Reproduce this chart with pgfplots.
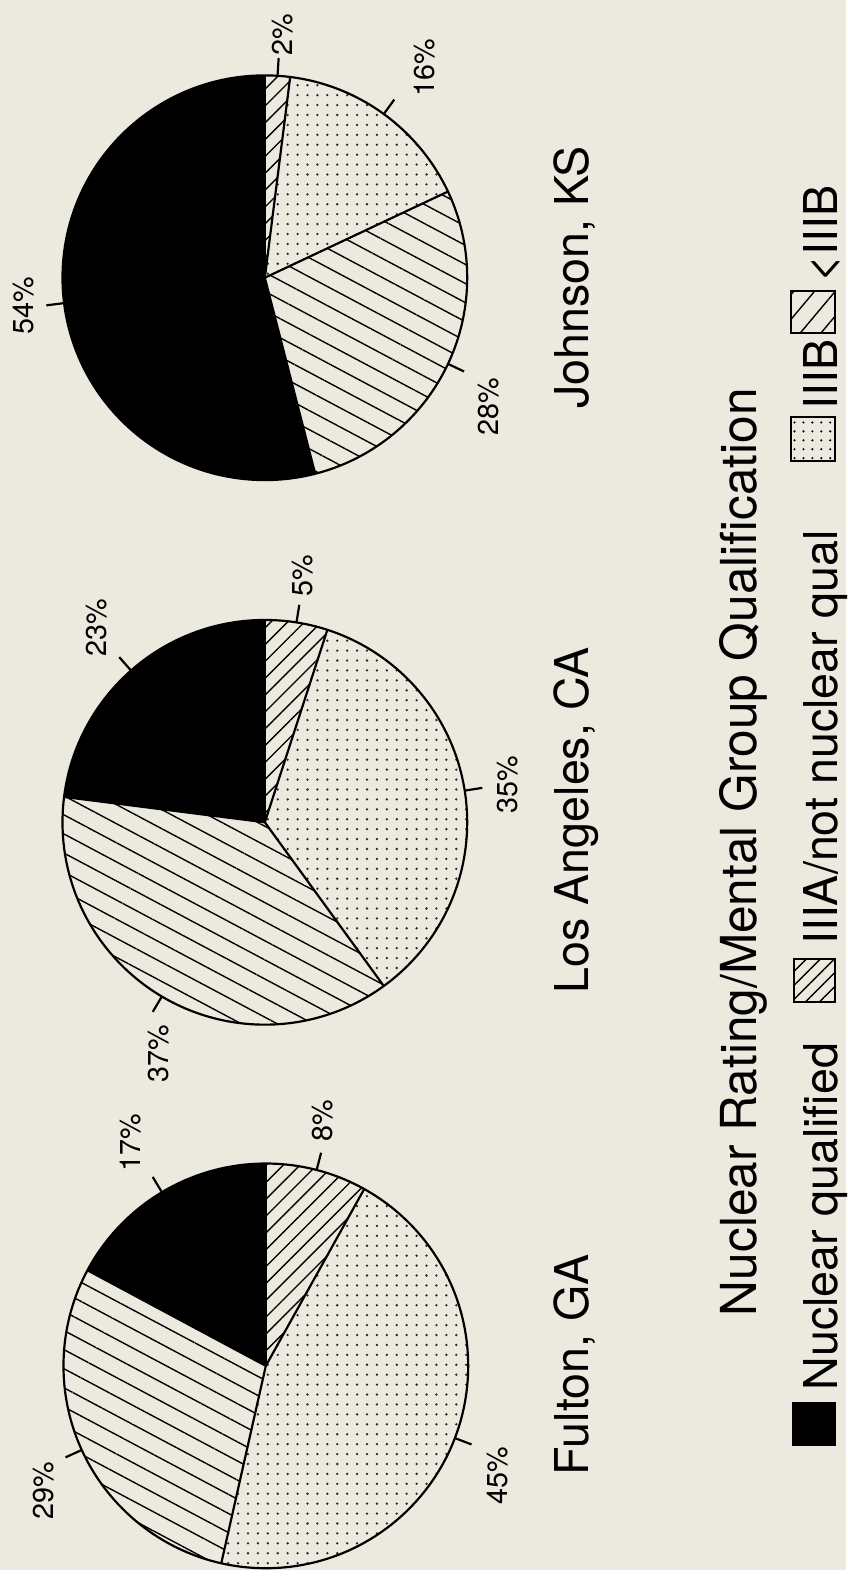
\documentclass[border=0pt]{standalone}
\usepackage{pgfplots}
\pgfplotsset{compat=1.18}
\usepackage{pgfplotstable}
\usetikzlibrary{patterns.meta}
\usepackage{fontspec}
\setmainfont{TeX Gyre Heros}
\definecolor{paper}{HTML}{ECE9DF}

% slices clockwise from 12 o'clock (page): IIIA/not nuclear qual, IIIB, <IIIB, Nuclear qualified
% lx, ly: label centre in picture pixels (y downward)
\pgfplotstableread{
val lx ly
8 325 1130
45 502 1488
29 44 1503
17 132 1152
}\fulton
\pgfplotstableread{
val lx ly
5 305 580
35 512 791
37 160 1062
23 97 633
}\losangeles
\pgfplotstableread{
val lx ly
2 285 35
16 428 68
28 493 410
54 24 308
}\johnson
\pgfplotstablecreatecol[expr accum={\pgfmathaccuma + \thisrow{val}}{0}]{cum}{\fulton}
\pgfplotstablecreatecol[expr accum={\pgfmathaccuma + \thisrow{val}}{0}]{cum}{\losangeles}
\pgfplotstablecreatecol[expr accum={\pgfmathaccuma + \thisrow{val}}{0}]{cum}{\johnson}

\tikzset{
  slice0/.style={pattern={Lines[angle=45,distance=6pt,line width=0.7pt]},pattern color=black},
  slice1/.style={pattern={Dots[distance=5pt,radius=0.65pt]},pattern color=black!85},
  slice2/.style={pattern={Lines[angle=-28,distance=8.5pt,line width=0.7pt]},pattern color=black},
  slice3/.style={fill=black},
}
\def\R{102pt}
\newcommand\labf{\fontsize{14.5}{17}\selectfont}
\newcommand\bigf{\fontsize{23.5}{28}\selectfont}

\newcommand\pie[3]{%
 \pgfplotsextra{%
  \pgfplotstablegetrowsof{#1}\pgfmathtruncatemacro\last{\pgfplotsretval-1}%
  \pgfplotstablegetelem{\last}{cum}\of#1\pgfmathsetmacro\tot{\pgfplotsretval}%
  \foreach \i in {0,...,\last}{%
    \pgfplotstablegetelem{\i}{val}\of#1\edef\vv{\pgfplotsretval}%
    \pgfplotstablegetelem{\i}{cum}\of#1\edef\cc{\pgfplotsretval}%
    \pgfplotstablegetelem{\i}{lx}\of#1\edef\lx{\pgfplotsretval}%
    \pgfplotstablegetelem{\i}{ly}\of#1\edef\ly{\pgfplotsretval}%
    \pgfmathsetmacro\aS{90-(\cc-\vv)/\tot*360}%
    \pgfmathsetmacro\aE{90-\cc/\tot*360}%
    \pgfmathsetmacro\aM{(\aS+\aE)/2}%
    \edef\sty{slice\i}%
    \path[\sty] (axis cs:#2,#3) -- ++(\aS:\R) arc[start angle=\aS, end angle=\aE, radius=\R] -- cycle;
    \draw[line width=1.1pt] (axis cs:#2,#3) -- ++(\aS:\R);
    \draw[line width=1.1pt] (axis cs:#2,#3) ++(\aM:\R) -- ++(\aM:9pt);
    \node[rotate=90,font=\labf,inner sep=0pt] at (axis cs:\lx,\ly) {\vv\%};
  }%
  \draw[line width=1.1pt] (axis cs:#2,#3) circle[radius=\R];
 }%
}

\begin{document}
\begin{tikzpicture}
\begin{axis}[
  width=426.5pt, height=791.5pt, scale only axis,
  xmin=0, xmax=853, ymin=0, ymax=1583, y dir=reverse,
  hide axis, clip=false]
\fill[paper] (axis cs:0,0) rectangle (axis cs:853,1583);
\pie{\fulton}{268}{1377}
\pie{\losangeles}{267}{829}
\pie{\johnson}{267}{280}
% names
\node[rotate=90,font=\bigf,anchor=base,inner sep=0pt] at (axis cs:593,1376) {Fulton, GA};
\node[rotate=90,font=\bigf,anchor=base,inner sep=0pt] at (axis cs:593,827) {Los Angeles, CA};
\node[rotate=90,font=\bigf,anchor=base,inner sep=0pt] at (axis cs:593,280) {Johnson, KS};
% title
\node[rotate=90,font=\fontsize{25}{30}\selectfont,anchor=base,inner sep=0pt] at (axis cs:763,859) {Nuclear Rating/Mental Group Qualification};
% legend
\fill[black] (axis cs:798,1413) rectangle (axis cs:843,1458);
\node[rotate=90,font=\bigf,anchor=base west,inner sep=0pt] at (axis cs:844,1402) {Nuclear qualified};
\path[pattern={Lines[angle=45,distance=5pt,line width=0.7pt]}] (axis cs:800,967) rectangle (axis cs:842,1010);
\draw[line width=1pt] (axis cs:800,967) rectangle (axis cs:842,1010);
\node[rotate=90,font=\bigf,anchor=base west,inner sep=0pt] at (axis cs:844,953) {IIIA/not nuclear qual};
\path[pattern={Dots[distance=4.5pt,radius=0.6pt]}] (axis cs:797,420) rectangle (axis cs:842,465);
\draw[line width=1pt] (axis cs:797,420) rectangle (axis cs:842,465);
\node[rotate=90,font=\bigf,anchor=base west,inner sep=0pt] at (axis cs:844,413) {IIIB};
\path[pattern={Lines[angle=50,distance=8pt,line width=0.7pt]}] (axis cs:797,293) rectangle (axis cs:842,336);
\draw[line width=1pt] (axis cs:797,293) rectangle (axis cs:842,336);
\node[rotate=90,font=\bigf,anchor=base west,inner sep=0pt] at (axis cs:844,285) {\textless IIIB};
\end{axis}
\end{tikzpicture}
\end{document}
